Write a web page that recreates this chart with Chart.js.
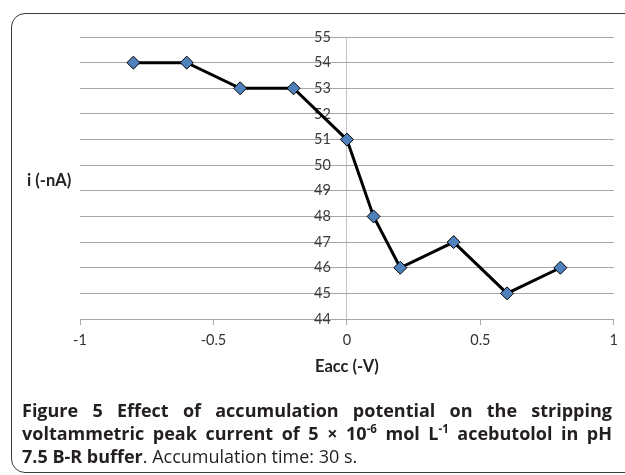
<!DOCTYPE html>
<html>
<head>
<meta charset="utf-8">
<script src="https://cdn.jsdelivr.net/npm/chart.js@4/dist/chart.umd.min.js"></script>
<style>
  html, body { margin: 0; padding: 0; background: #fff; }
  #wrap { position: relative; width: 625px; height: 475px; overflow: hidden; }
  #frame {
    position: absolute; left: 11px; top: 13px; width: 660px; height: 458px;
    border: 1.5px solid #3a3a3a; border-radius: 14px;
  }
  #chart { position: absolute; left: 0; top: 0; }
  #ylabel {
    position: absolute; left: 27px; top: 170px;
    font: bold 16.5px Lato, sans-serif; color: #222;
  }
  #caption {
    position: absolute; left: 22px; top: 399px; width: 590px;
    font-family: "Open Sans", sans-serif; font-size: 18px; line-height: 23px; color: #231f20;
  }
  #caption .j { text-align: justify; text-align-last: justify; white-space: nowrap; }
  #caption sup { font-size: 11.5px; line-height: 0; vertical-align: 7px; }
</style>
</head>
<body>
<div id="wrap">
  <div id="frame"></div>
  <canvas id="chart" width="625" height="475"></canvas>
  <div id="ylabel">i (-nA)</div>
  <div id="caption">
    <div class="j"><b>Figure 5 Effect of accumulation potential on the stripping</b></div>
    <div class="j"><b>voltammetric peak current of 5 × 10<sup>-6</sup> mol L<sup>-1</sup> acebutolol in pH</b></div>
    <div><b>7.5 B-R buffer</b>. Accumulation time: 30 s.</div>
  </div>
</div>
<script>
// accumulation potential (-V) and peak current (-nA)
const potentials = [-0.8, -0.6, -0.4, -0.2, 0, 0.1, 0.2, 0.4, 0.6, 0.8];
const currents = [54, 54, 53, 53, 51, 48, 46, 47, 45, 46];

const xTicks = [-1, -0.5, 0, 0.5, 1];
const yTicks = [44, 45, 46, 47, 48, 49, 50, 51, 52, 53, 54, 55];

const points = potentials.map((x, i) => ({ x: x, y: currents[i] }));

new Chart(document.getElementById('chart'), {
    type: 'scatter',
    data: {
        datasets: [{
            data: points,
            showLine: true,
            borderColor: '#000',
            borderWidth: 3,
            pointStyle: 'rectRot',
            pointRadius: 6.5,
            pointHoverRadius: 6.5,
            pointBackgroundColor: '#4f81bd',
            pointBorderColor: '#000',
            pointBorderWidth: 1
        }]
    },
    options: {
        responsive: false,
        animation: false,
        events: [],
        layout: { padding: { left: 80, right: 9, top: 37, bottom: 98 } },
        plugins: { legend: { display: false }, tooltip: { enabled: false } },
        scales: {
            x: {
                type: 'linear',
                min: -1,
                max: 1,
                afterBuildTicks: s => { s.ticks = xTicks.map(v => ({ value: v })); },
                afterFit: s => { s.height = 58; },
                grid: {
                    drawOnChartArea: true,
                    drawTicks: true,
                    tickLength: 6,
                    // only the zero line crosses the plot, like the value axis in the original
                    color: ctx => (ctx.tick && ctx.tick.value === 0) ? '#c4c4c4' : 'rgba(0,0,0,0)',
                    tickColor: '#a6a6a6'
                },
                border: { display: true, color: '#a6a6a6' },
                ticks: {
                    color: '#333',
                    padding: 7,
                    font: { family: 'Lato', size: 14.5 },
                    callback: v => String(v)
                },
                title: {
                    display: true,
                    text: 'Eacc (-V)',
                    color: '#222',
                    padding: { top: 0, bottom: 0 },
                    font: { family: 'Lato', size: 16.5, weight: 'bold' }
                }
            },
            y: {
                type: 'linear',
                position: { x: -0.06 },
                min: 44,
                max: 55,
                afterBuildTicks: s => { s.ticks = yTicks.map(v => ({ value: v })); },
                grid: { drawTicks: false, color: '#a6a6a6' },
                border: { display: false },
                ticks: { color: '#3a3a3a', padding: 0, font: { family: 'Lato', size: 14.5 } }
            }
        }
    }
});
</script>
</body>
</html>
